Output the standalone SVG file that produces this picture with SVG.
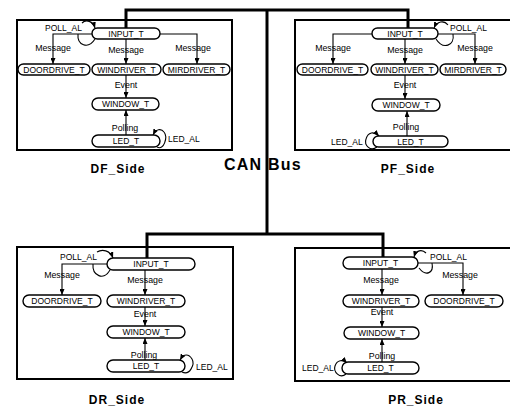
<svg xmlns="http://www.w3.org/2000/svg" width="510" height="410" viewBox="0 0 510 410">
<style>
  .frame{fill:none;stroke:#000;stroke-width:2}
  .pill{fill:#fff;stroke:#000;stroke-width:1.4}
  .nt{font-family:"Liberation Sans",Arial,sans-serif;font-size:8.5px;fill:#000;text-anchor:middle}
  .el{font-family:"Liberation Sans",Arial,sans-serif;font-size:8.8px;fill:#000;text-anchor:middle}
  .al{font-family:"Liberation Sans",Arial,sans-serif;font-size:8.5px;fill:#000}
  .side{font-family:"Liberation Sans",Arial,sans-serif;font-size:12px;font-weight:bold;fill:#000;text-anchor:middle;letter-spacing:1px}
  .bus{fill:none;stroke:#000;stroke-width:3}
  .c{fill:none;stroke:#000;stroke-width:1.1}
  .a{marker-end:url(#arr)}
</style>
<defs>
  <marker id="arr" markerUnits="userSpaceOnUse" markerWidth="6" markerHeight="5" refX="6" refY="2.5" orient="auto">
    <path d="M0,0 L6,2.5 L0,5 z" fill="#000"/>
  </marker>
</defs>
<rect width="510" height="410" fill="#fff"/>

<g id="frames">
  <rect class="frame" x="17" y="20" width="215" height="130"/>
  <rect class="frame" x="295" y="20" width="225" height="130"/>
  <rect class="frame" x="17" y="247" width="216" height="132"/>
  <rect class="frame" x="295" y="248" width="225" height="133"/>
  <text class="side" x="118" y="173">DF_Side</text>
  <text class="side" x="408" y="173">PF_Side</text>
  <text class="side" x="117" y="404">DR_Side</text>
  <text class="side" x="416" y="404">PR_Side</text>
</g>

<g id="connectors">
  <!-- DF -->
  <path class="c a" d="M92,34 H53 V64"/>
  <path class="c a" d="M126,39 V64"/>
  <path class="c a" d="M160,34 H197 V64"/>
  <path class="c a" d="M126,75 V98"/>
  <path class="c a" d="M126,135 V110"/>
  <path class="c a" d="M82,23 C86,19 93,21 95,28"/>
  <path class="c" d="M78,34 C77,45 88,50 95,39"/>
  <path class="c a" d="M157,147 C164,151 168,137 164,132 C161,128 156,129 153,135"/>
  <text class="el" x="53" y="51">Message</text>
  <text class="el" x="126" y="53">Message</text>
  <text class="el" x="193" y="51">Message</text>
  <text class="el" x="126" y="88">Event</text>
  <text class="el" x="125" y="131">Polling</text>
  <text class="al" x="45" y="31">POLL_AL</text>
  <text class="al" x="168" y="142">LED_AL</text>
  <!-- PF -->
  <path class="c a" d="M372,34 H333 V64"/>
  <path class="c a" d="M405,39 V64"/>
  <path class="c a" d="M438,34 H475 V64"/>
  <path class="c a" d="M405,75 V99"/>
  <path class="c a" d="M407,136 V111"/>
  <path class="c a" d="M448,25 C444,20 437,21 434,28"/>
  <path class="c" d="M453,34 C455,46 443,50 436,39"/>
  <path class="c a" d="M377,147 C370,152 364,145 366,139 C368,132 374,131 379,136"/>
  <text class="el" x="333" y="51">Message</text>
  <text class="el" x="405" y="53">Message</text>
  <text class="el" x="475" y="51">Message</text>
  <text class="el" x="405" y="88">Event</text>
  <text class="el" x="406" y="130">Polling</text>
  <text class="al" x="450" y="31">POLL_AL</text>
  <text class="al" x="331" y="145">LED_AL</text>
  <!-- DR -->
  <path class="c a" d="M107,264 H62 V295"/>
  <path class="c a" d="M145,270 V295"/>
  <path class="c a" d="M145,307 V326"/>
  <path class="c a" d="M145,360 V338"/>
  <path class="c a" d="M97,252 C102,249 110,250 113,258"/>
  <path class="c" d="M93,264 C92,276 104,281 110,270"/>
  <path class="c a" d="M182,372 C190,376 195,364 192,359 C189,354 184,353 180,360"/>
  <text class="el" x="62" y="278">Message</text>
  <text class="el" x="145" y="283">Message</text>
  <text class="el" x="145" y="317">Event</text>
  <text class="el" x="144" y="358">Polling</text>
  <text class="al" x="60" y="260">POLL_AL</text>
  <text class="al" x="196" y="370">LED_AL</text>
  <!-- PR -->
  <path class="c a" d="M382,269 V295"/>
  <path class="c a" d="M418,263 H463 V295"/>
  <path class="c a" d="M382,307 V327"/>
  <path class="c a" d="M382,362 V339"/>
  <path class="c a" d="M426,253 C422,249 416,250 414,257"/>
  <path class="c" d="M432,263 C434,273 426,277 419,268"/>
  <path class="c a" d="M346,374 C340,379 333,372 335,366 C337,360 343,359 347,363"/>
  <text class="el" x="381" y="283">Message</text>
  <text class="el" x="460" y="278">Message</text>
  <text class="el" x="382" y="315">Event</text>
  <text class="el" x="382" y="359">Polling</text>
  <text class="al" x="430" y="260">POLL_AL</text>
  <text class="al" x="302" y="371">LED_AL</text>
</g>

<g id="can-bus">
  <path class="bus" d="M126,28 V10 H408 V28"/>
  <path class="bus" d="M267,10 V234"/>
  <path class="bus" d="M147,258 V234 H383 V257"/>
  <text x="224" y="170" font-family="Liberation Sans, Arial, sans-serif" font-size="16" font-weight="bold" letter-spacing="1.2">CAN Bus</text>
</g>

<!-- DF nodes -->
<g id="df-input"><rect class="pill" x="92" y="28" width="68" height="11" rx="5.5"/><text class="nt" x="126" y="36.5">INPUT_T</text></g>
<g id="df-doordrive"><rect class="pill" x="18" y="64" width="72" height="11" rx="5.5"/><text class="nt" x="54" y="72.5">DOORDRIVE_T</text></g>
<g id="df-windriver"><rect class="pill" x="92" y="64" width="69" height="11" rx="5.5"/><text class="nt" x="126.5" y="72.5">WINDRIVER_T</text></g>
<g id="df-mirdriver"><rect class="pill" x="163" y="64" width="67" height="11" rx="5.5"/><text class="nt" x="196.5" y="72.5">MIRDRIVER_T</text></g>
<g id="df-window"><rect class="pill" x="92" y="98" width="67" height="12" rx="6"/><text class="nt" x="125.5" y="107">WINDOW_T</text></g>
<g id="df-led"><rect class="pill" x="92" y="135" width="68" height="12" rx="6"/><text class="nt" x="126" y="144">LED_T</text></g>

<!-- PF nodes -->
<g id="pf-input"><rect class="pill" x="372" y="28" width="66" height="11" rx="5.5"/><text class="nt" x="405" y="36.5">INPUT_T</text></g>
<g id="pf-doordrive"><rect class="pill" x="297" y="64" width="71" height="11" rx="5.5"/><text class="nt" x="332.5" y="72.5">DOORDRIVE_T</text></g>
<g id="pf-windriver"><rect class="pill" x="371" y="64" width="67" height="11" rx="5.5"/><text class="nt" x="404.5" y="72.5">WINDRIVER_T</text></g>
<g id="pf-mirdriver"><rect class="pill" x="440" y="64" width="66" height="11" rx="5.5"/><text class="nt" x="473" y="72.5">MIRDRIVER_T</text></g>
<g id="pf-window"><rect class="pill" x="372" y="99" width="68" height="12" rx="6"/><text class="nt" x="406" y="108">WINDOW_T</text></g>
<g id="pf-led"><rect class="pill" x="373" y="136" width="75" height="11" rx="5.5"/><text class="nt" x="410.5" y="144.5">LED_T</text></g>

<!-- DR nodes -->
<g id="dr-input"><rect class="pill" x="107" y="258" width="88" height="12" rx="6"/><text class="nt" x="151" y="267">INPUT_T</text></g>
<g id="dr-doordrive"><rect class="pill" x="23" y="295" width="78" height="12" rx="6"/><text class="nt" x="62" y="304">DOORDRIVE_T</text></g>
<g id="dr-windriver"><rect class="pill" x="107" y="295" width="78" height="12" rx="6"/><text class="nt" x="146" y="304">WINDRIVER_T</text></g>
<g id="dr-window"><rect class="pill" x="107" y="326" width="78" height="12" rx="6"/><text class="nt" x="146" y="335">WINDOW_T</text></g>
<g id="dr-led"><rect class="pill" x="107" y="360" width="78" height="12" rx="6"/><text class="nt" x="146" y="369">LED_T</text></g>

<!-- PR nodes -->
<g id="pr-input"><rect class="pill" x="343" y="257" width="75" height="12" rx="6"/><text class="nt" x="380.5" y="266">INPUT_T</text></g>
<g id="pr-windriver"><rect class="pill" x="343" y="295" width="76" height="12" rx="6"/><text class="nt" x="381" y="304">WINDRIVER_T</text></g>
<g id="pr-doordrive"><rect class="pill" x="425" y="295" width="78" height="12" rx="6"/><text class="nt" x="464" y="304">DOORDRIVE_T</text></g>
<g id="pr-window"><rect class="pill" x="344" y="327" width="75" height="12" rx="6"/><text class="nt" x="381.5" y="336">WINDOW_T</text></g>
<g id="pr-led"><rect class="pill" x="342" y="362" width="77" height="12" rx="6"/><text class="nt" x="380.5" y="371">LED_T</text></g>
</svg>
